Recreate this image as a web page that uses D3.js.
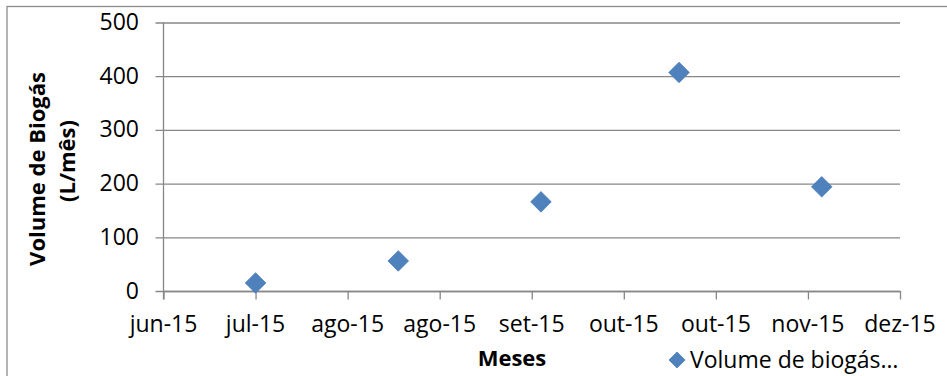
<!DOCTYPE html>
<html>
<head>
<meta charset="utf-8">
<script src="https://cdn.jsdelivr.net/npm/d3@7"></script>
<style>
  body { margin: 0; background: #fff; }
  svg { display: block; }
  text { font-family: "Open Sans", "DejaVu Sans", sans-serif; fill: #000; }
</style>
</head>
<body>
<svg id="chart" width="947" height="376"></svg>
<script>
// Monthly biogas volume (L/mês), measured mid-month
const measureDates = ["2015-07-15", "2015-08-15", "2015-09-15", "2015-10-15", "2015-11-15"];
const biogasVolume = [15, 56, 166, 407, 194];

// Date axis: major unit of 20 days, labelled as mmm-yy
const xTickDates = ["2015-06-25", "2015-07-15", "2015-08-04", "2015-08-24", "2015-09-13",
                    "2015-10-03", "2015-10-23", "2015-11-12", "2015-12-02"];
const monthAbbr = ["jan", "fev", "mar", "abr", "mai", "jun", "jul", "ago", "set", "out", "nov", "dez"];
const yTicks = [0, 100, 200, 300, 400, 500];

const seriesName = "Volume de biogás…";
const xTitle = "Meses";
const yTitleLines = ["Volume de Biogás", "(L/mês)"];

const parse = d3.timeParse("%Y-%m-%d");
const points = measureDates.map((d, i) => ({ date: parse(d), value: biogasVolume[i] }));
const tickDates = xTickDates.map(parse);
const fmtTick = d => monthAbbr[d.getMonth()] + "-" + String(d.getFullYear()).slice(2);

const plot = { left: 163.5, right: 900, top: 22.5, bottom: 291 };
const gridColor = "#878787";
const blue = "#4f81bd";
const labelSize = "23px";

const x = d3.scaleTime()
  .domain([tickDates[0], tickDates[tickDates.length - 1]])
  .range([plot.left, plot.right]);
const y = d3.scaleLinear().domain([0, 500]).range([plot.bottom, plot.top]);

const svg = d3.select("#chart");

// chart area frame (runs off the right and bottom edges)
svg.append("rect")
  .attr("x", 7).attr("y", 6.5).attr("width", 1000).attr("height", 500)
  .attr("fill", "none").attr("stroke", "#8c8c8c").attr("stroke-width", 1.3);

// horizontal gridlines with their left tick marks
const yAxis = d3.axisLeft(y).tickValues(yTicks).tickSize(plot.right - plot.left + 8).tickPadding(0).tickFormat("");
const gy = svg.append("g").attr("transform", `translate(${plot.right},0)`).call(yAxis);
gy.select(".domain").remove();
gy.selectAll(".tick line").attr("stroke", gridColor).attr("stroke-width", 1.3);

// y tick labels
svg.append("g").selectAll("text").data(yTicks).join("text")
  .attr("x", 139).attr("y", d => y(d) + 7.5)
  .attr("text-anchor", "end")
  .style("font-size", labelSize)
  .text(d => d);

// vertical axis line (extends down to the first x tick)
svg.append("line")
  .attr("x1", plot.left).attr("x2", plot.left)
  .attr("y1", plot.top).attr("y2", plot.bottom + 8.5)
  .attr("stroke", gridColor).attr("stroke-width", 1.3);

// horizontal axis with outward ticks
const xAxis = d3.axisBottom(x).tickValues(tickDates).tickSize(8.5).tickSizeOuter(0).tickFormat("");
const gx = svg.append("g").attr("transform", `translate(0,${plot.bottom})`).call(xAxis);
gx.select(".domain").attr("stroke", gridColor).attr("stroke-width", 1.3);
gx.selectAll(".tick line").attr("stroke", gridColor).attr("stroke-width", 1.3);

// x tick labels
svg.append("g").selectAll("text").data(tickDates).join("text")
  .attr("x", d => x(d)).attr("y", 332)
  .attr("text-anchor", "middle")
  .style("font-size", labelSize)
  .text(fmtTick);

// axis titles
svg.append("text")
  .attr("x", 512).attr("y", 366)
  .attr("text-anchor", "middle")
  .style("font-size", "22px").style("font-weight", "bold")
  .text(xTitle);

const yTitleCenters = [{ x: 45, y: 169 }, { x: 75, y: 161 }];
svg.append("g").selectAll("text").data(yTitleLines).join("text")
  .attr("transform", (d, i) => `translate(${yTitleCenters[i].x},${yTitleCenters[i].y}) rotate(-90)`)
  .attr("text-anchor", "middle")
  .style("font-size", "22px").style("font-weight", "bold")
  .text(d => d);

// diamond markers
const diamond = d3.symbol(d3.symbolSquare, 212);
svg.append("g").selectAll("path").data(points).join("path")
  .attr("d", diamond)
  .attr("transform", d => `translate(${x(d.date)},${y(d.value)}) rotate(45)`)
  .attr("fill", blue).attr("stroke", "#4a7ebb").attr("stroke-width", 0.75);

// legend
const legend = svg.append("g").attr("transform", "translate(677,360)");
legend.append("path")
  .attr("d", d3.symbol(d3.symbolSquare, 130))
  .attr("transform", "rotate(45)")
  .attr("fill", blue).attr("stroke", "#4a7ebb").attr("stroke-width", 0.75);
legend.append("text")
  .attr("x", 13).attr("y", 8)
  .style("font-size", labelSize)
  .text(seriesName);
</script>
</body>
</html>
